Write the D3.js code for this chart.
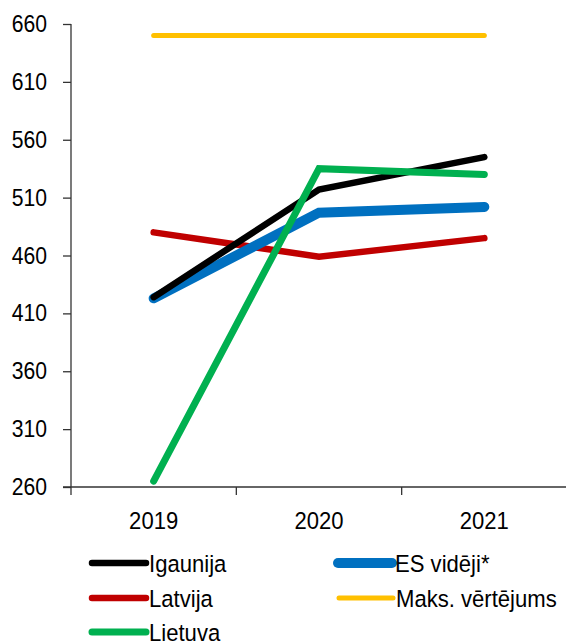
<!DOCTYPE html>
<head>
  <meta charset="utf-8">
  <script src="https://d3js.org/d3.v7.min.js"></script>
  <style>
    body { margin:0; background:#fff; }
    text { font-family: "Liberation Sans", Arial, sans-serif; fill:#000; }
    .axis path, .axis line { stroke:#333; stroke-width:1.3px; }
  </style>
</head>

<body>
  <script>
    var years = ["2019", "2020", "2021"];
    var yTicks = [260, 310, 360, 410, 460, 510, 560, 610, 660];

    var igaunija = [424, 517, 545];
    var esVideji = [423, 497, 502];
    var latvija = [480, 459, 475];
    var lietuva = [265, 535, 530];
    var maks = [650, 650, 650];

    var series = [
      { name: "Maks. vērtējums", values: maks, color: "#FFC000", w: 5 },
      { name: "Latvija", values: latvija, color: "#C00000", w: 6.5 },
      { name: "ES vidēji*", values: esVideji, color: "#0070C0", w: 10 },
      { name: "Igaunija", values: igaunija, color: "#000000", w: 6.5 },
      { name: "Lietuva", values: lietuva, color: "#00B050", w: 7 }
    ];

    var svg = d3.select("body").append("svg")
      .attr("width", 566)
      .attr("height", 643);

    var x = d3.scaleBand().domain(years).range([71, 567]);
    var y = d3.scaleLinear().domain([260, 660]).range([487, 24]);

    // y axis
    var yAxis = svg.append("g")
      .attr("class", "axis")
      .attr("transform", "translate(71,0)")
      .call(d3.axisLeft(y).tickValues(yTicks).tickSize(8).tickPadding(15).tickSizeOuter(0));
    yAxis.select(".domain").attr("d", "M0,24V495");
    yAxis.selectAll("text").style("font-size", "23.5px")
      .attr("transform", "scale(0.9,1)")
      .attr("x", -24 / 0.9);

    // x axis with boundary ticks
    var xAxis = svg.append("g").attr("class", "axis");
    xAxis.append("line").attr("x1", 63).attr("x2", 566).attr("y1", 487).attr("y2", 487);
    years.forEach(function(d) {
      xAxis.append("line")
        .attr("x1", x(d) + x.bandwidth()).attr("x2", x(d) + x.bandwidth())
        .attr("y1", 487).attr("y2", 495);
    });
    xAxis.selectAll("text.xl").data(years).enter().append("text")
      .attr("class", "xl")
      .attr("text-anchor", "middle")
      .attr("transform", function(d) { return "translate(" + (x(d) + x.bandwidth() / 2) + ",529) scale(0.92,1)"; })
      .style("font-size", "24px")
      .text(function(d) { return d; });

    var line = d3.line()
      .x(function(d, i) { return x(years[i]) + x.bandwidth() / 2; })
      .y(function(d) { return y(d); });

    svg.selectAll("path.s").data(series).enter().append("path")
      .attr("class", "s")
      .attr("d", function(d) { return line(d.values); })
      .attr("fill", "none")
      .attr("stroke", function(d) { return d.color; })
      .attr("stroke-width", function(d) { return d.w; })
      .attr("stroke-linecap", "round")
      .attr("stroke-linejoin", "miter");

    // legend
    var legend = [
      { name: "Igaunija", color: "#000000", w: 6.5, x: 92, y: 563 },
      { name: "ES vidēji*", color: "#0070C0", w: 10, x: 338, y: 563 },
      { name: "Latvija", color: "#C00000", w: 6.5, x: 92, y: 598 },
      { name: "Maks. vērtējums", color: "#FFC000", w: 5, x: 339, y: 598 },
      { name: "Lietuva", color: "#00B050", w: 7, x: 92, y: 632 }
    ];
    var lg = svg.selectAll("g.lg").data(legend).enter().append("g")
      .attr("class", "lg")
      .attr("transform", function(d) { return "translate(" + d.x + "," + d.y + ")"; });
    lg.append("line")
      .attr("x1", 0).attr("x2", 54)
      .attr("stroke", function(d) { return d.color; })
      .attr("stroke-width", function(d) { return d.w; })
      .attr("stroke-linecap", "round");
    lg.append("text")
      .attr("transform", "translate(57,8.5) scale(0.94,1)")
      .style("font-size", "23.5px")
      .text(function(d) { return d.name; });
  </script>
</body>
